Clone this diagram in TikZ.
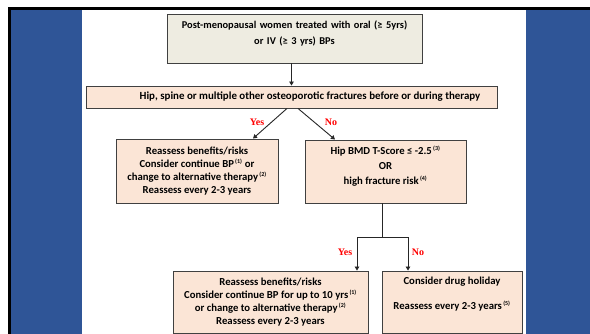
\documentclass[tikz,border=0pt]{standalone}
\usepackage{fontspec}
\setmainfont{Carlito}
\newfontfamily\yesnofont{Liberation Serif}
\usetikzlibrary{arrows.meta,calc}
\definecolor{panelblue}{HTML}{2F5597}
\definecolor{peach}{HTML}{FBE5D6}
\definecolor{paleg}{HTML}{EEECE1}
\definecolor{edge}{HTML}{404040}
\newcommand{\sups}[1]{\textsuperscript{\,\fontsize{6}{6}\selectfont(#1)}}
\tikzset{
  box/.style={draw=edge, line width=0.9pt, fill=peach, inner sep=0pt, font=\bfseries\fontsize{10.7}{13}\selectfont, align=center},
  txt/.style={inner sep=0pt, font=\bfseries\fontsize{10.7}{13}\selectfont, align=center},
  arr/.style={draw=black!85, line width=0.9pt, -{Triangle[length=4pt,width=4.5pt]}},
  ln/.style={draw=black!85, line width=0.9pt},
  yn/.style={inner sep=0pt, text=red, font=\yesnofont\bfseries\fontsize{10}{12}\selectfont}
}
\begin{document}
\begin{tikzpicture}[x=1pt,y=-1pt]
\useasboundingbox (0,0) rectangle (590,334);
% frame and side panels
\fill[white] (0,0) rectangle (590,334);
\fill[black] (8,7) rectangle (590,10);
\fill[black] (8,7) rectangle (11,334);
\fill[panelblue] (11,10) rectangle (82,334);
\fill[panelblue] (526,10) rectangle (590,334);
% boxes
\node[box, fill=paleg, minimum width=255, minimum height=49] (top) at (294.5,38.5) {};
\node[txt, text width=250, font=\bfseries\fontsize{10.4}{16}\selectfont] (toptext) at (294.5,33) {Post-menopausal women treated with oral (≥ 5yrs)\\or IV (≥ 3 yrs) BPs};
\node[box, minimum width=411, minimum height=22] (bar) at (291.5,97) {};
\node[txt, font=\bfseries\fontsize{10.9}{13}\selectfont] (bartext) at (310,97) {Hip, spine or multiple other osteoporotic fractures before or during therapy};
\node[box, minimum width=162, minimum height=64] (lm) at (197,171) {Reassess benefits/risks\\Consider continue BP\sups{1} or\\change to alternative therapy\sups{2}\\Reassess every 2-3 years};
\node[box, minimum width=161, minimum height=63] (rm) at (385.5,171.5) {};
\node[txt, font=\bfseries\fontsize{10.7}{15}\selectfont] (rmtext) at (385.5,166) {Hip BMD T-Score ≤ -2.5\sups{3}\\OR\\high fracture risk\sups{4}};
\node[box, minimum width=195, minimum height=62] (bl) at (270.5,302) {Reassess benefits/risks\\Consider continue BP for up to 10 yrs\sups{1}\\or change to alternative therapy\sups{2}\\Reassess every 2-3 years};
\node[box, minimum width=140, minimum height=62] (br) at (452,302) {};
\node[txt, font=\bfseries\fontsize{10.7}{25}\selectfont] (brtext) at (452,294.5) {Consider drug holiday\\Reassess every 2-3 years\sups{5}};
% connectors
\draw[arr] (top.south -| bar.north) -- (bar.north);
\draw[arr] ([xshift=-4.5pt]bar.south) -- ([xshift=56pt]lm.north);
\draw[arr] ([xshift=6.5pt]bar.south) -- ([xshift=-50.5pt]rm.north);
\coordinate (split) at (382,237);
\draw[ln] (rm.south -| split) -- (split);
\draw[arr] (split) -| ([xshift=86.5pt]bl.north);
\draw[arr] (split) -| ([xshift=-44pt]br.north);
% labels
\node[yn] (yes1) at (257,122) {Yes};
\node[yn] (no1) at (331,122) {No};
\node[yn] (yes2) at (345,252) {Yes};
\node[yn] (no2) at (418,252) {No};
\end{tikzpicture}
\end{document}
